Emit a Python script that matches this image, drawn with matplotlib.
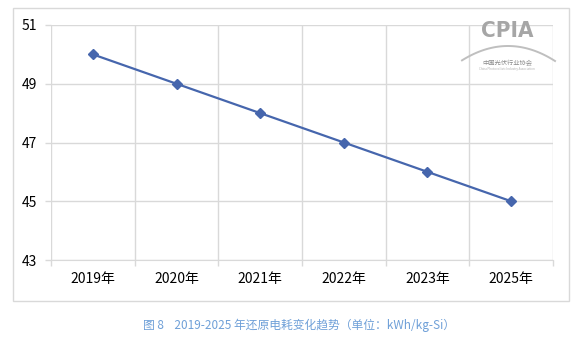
import matplotlib.pyplot as plt
from matplotlib.patches import Rectangle
import numpy as np

plt.rcParams['font.family'] = ['Noto Sans CJK SC', 'DejaVu Sans']

years = ['2019年', '2020年', '2021年', '2022年', '2023年', '2025年']
power = [50, 49, 48, 47, 46, 45]
y_ticks = [43, 45, 47, 49, 51]
caption = '图 8    2019-2025 年还原电耗变化趋势（单位：kWh/kg-Si）'

W, H = 583, 345
fig = plt.figure(figsize=(W / 100, H / 100), dpi=100)

# outer frame around the chart
frame = Rectangle((13 / W, 1 - 301 / H), 556 / W, 293 / H, transform=fig.transFigure,
                  fill=False, edgecolor='#d9d9d9', linewidth=1)
fig.add_artist(frame)

ax = fig.add_axes([51 / W, 1 - 260 / H, 502 / W, 235 / H])
x = np.arange(len(years))
ax.plot(x, power, color='#4666ad', linewidth=1.6, marker='D', markersize=5,
        markerfacecolor='#4666ad', markeredgecolor='#4666ad', zorder=3)

ax.set_xlim(-0.5, len(years) - 0.5)
ax.set_ylim(43, 51)
ax.set_yticks(y_ticks)
ax.set_xticks(x)
ax.set_xticklabels(years)
ax.set_xticks(np.arange(-0.5, len(years)), minor=True)
ax.tick_params(axis='x', which='major', length=0, pad=9, labelsize=10, colors='#000000')
ax.tick_params(axis='x', which='minor', length=4, color='#d9d9d9', width=1)
ax.tick_params(axis='y', length=4, color='#d9d9d9', width=1, labelsize=10, pad=6)
ax.grid(True, which='minor', axis='x', color='#d9d9d9', linewidth=1)
ax.grid(True, which='major', axis='y', color='#d9d9d9', linewidth=1)
for s in ['top', 'right', 'left']:
    ax.spines[s].set_visible(False)
ax.spines['bottom'].set_color('#d9d9d9')
ax.set_axisbelow(True)

# CPIA watermark
fig.text(507 / W, 1 - 31 / H, 'CPIA', ha='center', va='center', fontsize=16,
         fontweight='bold', fontstretch='condensed', color='#a6a6a6', family='DejaVu Sans')
ax_arc = np.linspace(462, 555, 60)
arc_y = 46 + 15 * ((ax_arc - 508) / 47) ** 2
fig.add_artist(plt.Line2D(ax_arc / W, 1 - arc_y / H, transform=fig.transFigure,
                          color='#bfbfbf', linewidth=1.4))
fig.text(507 / W, 1 - 63 / H, '中国光伏行业协会', ha='center', va='center', fontsize=4.5, color='#8c8c8c')
fig.text(507 / W, 1 - 69 / H, 'China Photovoltaic Industry Association', ha='center', va='center',
         fontsize=2.2, color='#b0b0b0')

fig.text(299 / W, 1 - 325 / H, caption, ha='center', va='center', fontsize=8.5, color='#6fa0d8')

fig.savefig('out.png', dpi=100)
